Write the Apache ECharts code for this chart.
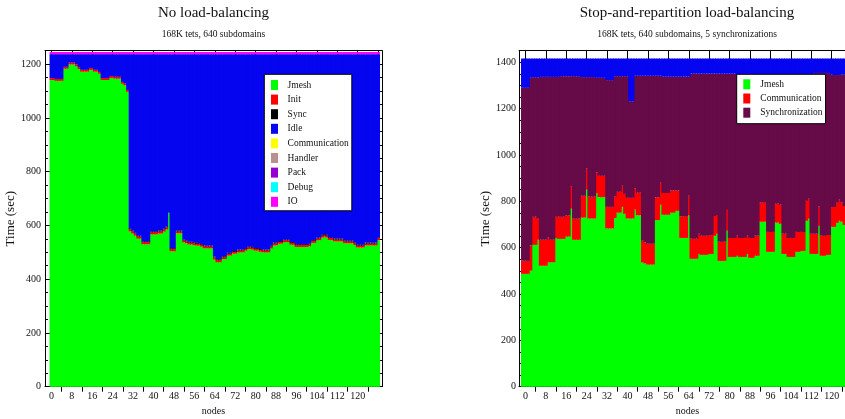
<!DOCTYPE html>
<html>
<head>
<meta charset="utf-8">
<script src="https://cdn.jsdelivr.net/npm/echarts@6/dist/echarts.min.js"></script>
<style>
  html, body { margin: 0; padding: 0; background: #fff; }
  #chart { width: 845px; height: 419px; }
</style>
</head>
<body>
<div id="chart"></div>
<script>
// category slots on both x axes: two empty slots before node 0, like the original frame
var nodes = [];
for (var n = -2; n <= 129; n++) nodes.push(String(n));

var yTicksL = [0, 200, 400, 600, 800, 1000, 1200];
var yTicksR = [0, 200, 400, 600, 800, 1000, 1200, 1400];

// ---- left panel: no load-balancing, bars for nodes 0..128
var jmeshL = [
  1141,1141,1138,1138,1138,1183,1183,1199,1199,1199,
  1192,1182,1172,1172,1172,1179,1179,1172,1172,1164,
  1141,1141,1141,1149,1149,1146,1146,1146,1127,1121,
  1097,578,570,562,551,551,530,530,530,567,
  567,567,570,570,577,585,647,504,504,571,
  571,571,537,534,529,529,527,525,525,521,
  515,515,515,515,473,463,463,475,475,488,
  488,495,495,500,500,500,506,512,512,510,
  506,506,502,500,500,500,514,526,526,532,
  532,538,538,538,528,528,520,520,520,520,
  520,522,535,535,545,545,555,558,555,546,
  546,541,541,541,541,534,534,534,534,527,
  518,518,518,526,526,526,526,526,545
];
var initL = [
  7,7,7,7,7,7,7,7,7,7,
  7,7,7,7,7,7,7,7,7,7,
  7,7,7,7,7,7,7,7,7,7,
  7,8,8,8,8,8,8,8,8,8,
  8,8,8,8,8,8,0,8,8,7,
  7,7,7,7,7,7,7,7,7,7,
  7,7,7,7,8,8,8,7,7,7,
  7,7,7,7,7,7,7,7,7,7,
  7,7,7,7,7,7,7,7,7,7,
  7,7,7,7,7,7,7,7,7,7,
  7,7,7,7,7,7,7,7,7,7,
  7,7,7,7,7,7,7,7,7,7,
  7,7,7,7,7,7,7,7,8
];
var syncL = [
  0,0,0,0,0,0,0,0,0,0,
  0,0,0,0,0,0,0,0,0,0,
  0,0,0,0,0,0,0,0,0,0,
  0,3,3,3,3,3,3,3,3,3,
  3,3,3,3,3,3,0,3,3,3,
  3,3,3,3,3,3,3,3,3,3,
  3,3,3,3,3,3,3,3,3,3,
  3,3,3,3,3,3,3,3,3,3,
  3,3,3,3,3,3,3,3,3,3,
  3,3,3,3,3,3,3,3,3,3,
  3,3,3,3,3,3,3,3,3,3,
  3,3,3,3,3,3,3,3,3,3,
  3,3,3,3,3,3,3,3,3
];
var idleTopL = 1237;  // top of the blue idle band
var ioTopL = 1245;    // top of the thin IO band

// ---- right panel: stop-and-repartition, first bar sits at node -1
var jmeshR = [
  487,487,487,501,612,612,634,522,522,522,
  537,537,537,642,638,638,638,648,648,768,
  634,634,634,730,730,850,726,726,726,835,
  818,818,818,683,683,683,728,751,751,776,
  746,726,726,726,764,740,740,536,532,527,
  527,527,719,719,785,742,742,742,751,751,
  759,759,642,642,642,739,552,552,552,573,
  569,569,569,573,573,651,660,543,543,543,
  673,560,560,560,565,560,560,560,573,556,
  556,565,565,712,712,712,582,582,582,708,
  708,703,573,573,560,560,560,582,582,586,
  586,716,725,573,573,573,694,565,565,569,
  569,690,690,707,716,712,698,698,698
];
var commTopR = [
  543,543,543,609,733,733,725,634,634,634,
  645,634,634,733,733,733,733,739,739,863,
  725,725,725,824,824,941,820,820,820,925,
  910,910,910,776,776,776,820,841,841,867,
  832,815,815,815,856,837,837,630,623,617,
  617,617,817,817,880,836,836,836,847,847,
  847,847,735,735,737,824,638,638,638,660,
  651,651,651,655,655,737,741,625,625,625,
  763,642,642,642,651,642,642,642,651,642,
  642,651,651,794,794,797,668,668,668,790,
  790,785,660,660,642,642,642,668,668,668,
  668,802,811,660,660,660,777,651,651,655,
  655,776,776,794,807,795,780,780,780
];
var syncTopR = [
  1290,1290,1290,1335,1335,1335,1335,1337,1337,1337,
  1337,1337,1337,1337,1337,1340,1340,1340,1340,1340,
  1340,1340,1340,1336,1336,1336,1336,1336,1336,1333,
  1333,1333,1333,1323,1323,1323,1340,1340,1340,1340,
  1340,1340,1232,1232,1342,1342,1342,1342,1342,1342,
  1342,1342,1342,1342,1342,1338,1338,1338,1338,1338,
  1338,1338,1338,1338,1338,1338,1351,1351,1351,1351,
  1351,1351,1351,1351,1351,1351,1351,1351,1351,1351,
  1351,1351,1351,1351,1345,1345,1345,1345,1345,1345,
  1345,1345,1345,1345,1345,1345,1345,1345,1345,1345,
  1345,1345,1345,1345,1345,1345,1345,1345,1345,1345,
  1345,1345,1345,1345,1354,1354,1354,1354,1354,1354,
  1354,1347,1345,1345,1345,1347,1347,1347,1347
];
var idleTopR = 1416;

var colors = {
  jmesh: '#00ff00', init: '#ff0000', sync: '#000000', idle: '#0505f0',
  comm: '#ffff00', handler: '#bc8f8f', pack: '#9400d3', debug: '#00ffff',
  io: '#ff00ff', commR: '#ff0000', syncR: '#660a48'
};

var font = '"Liberation Serif", "Times New Roman", serif';
var ink = '#111';

var chart = echarts.init(document.getElementById('chart'));

function minorOf(majors, max) {
  var out = [];
  for (var v = 50; v < max; v += 50) if (majors.indexOf(v) < 0) out.push(v);
  return out;
}

function pick(step, rest, last) {
  return function (i, val) {
    var v = +val;
    return v >= 0 && v <= last && v % step === rest;
  };
}

function catAxis(grid, pos, interval, len, extra) {
  var ax = {
    type: 'category', gridIndex: grid, position: pos, data: nodes,
    axisLine: { show: false },
    axisTick: { show: true, inside: true, length: len, interval: interval,
      alignWithLabel: true, lineStyle: { color: '#000', width: 1 } },
    axisLabel: { show: false },
    splitLine: { show: false }
  };
  return Object.assign(ax, extra || {});
}

function valAxis(grid, pos, max, ticks, len, extra) {
  var ax = {
    type: 'value', gridIndex: grid, position: pos, min: 0, max: max,
    axisLine: { show: false },
    axisTick: { show: true, inside: true, length: len, customValues: ticks,
      lineStyle: { color: '#000', width: 1 } },
    axisLabel: { show: false },
    splitLine: { show: false }
  };
  return Object.assign(ax, extra || {});
}

var frame = { show: true, onZero: false, lineStyle: { color: '#000', width: 1 } };

function xAxesFor(grid) {
  return [
    catAxis(grid, 'bottom', pick(8, 0, 128), 9, {
      axisLine: frame,
      axisLabel: { show: true, interval: pick(8, 0, 120), margin: 5,
        fontFamily: font, fontSize: 10, color: ink },
      name: 'nodes', nameLocation: 'middle', nameGap: 18,
      nameTextStyle: { fontFamily: font, fontSize: 10, color: ink }
    }),
    catAxis(grid, 'bottom', pick(8, 4, 128), 5),
    catAxis(grid, 'top', pick(8, 0, 128), 9, { axisLine: frame }),
    catAxis(grid, 'top', pick(8, 4, 128), 5)
  ];
}

function yAxesFor(grid, max, majors, labelMargin, nameGap) {
  var minors = minorOf(majors, max);
  return [
    valAxis(grid, 'left', max, majors, 5, {
      axisLine: frame,
      axisLabel: { show: true, customValues: majors, margin: labelMargin,
        formatter: function (v) { return String(v); },
        fontFamily: font, fontSize: 10, color: ink },
      name: 'Time (sec)', nameLocation: 'middle', nameGap: nameGap,
      nameTextStyle: { fontFamily: font, fontSize: 13, color: ink }
    }),
    valAxis(grid, 'left', max, minors, 3),
    valAxis(grid, 'right', max, majors, 5, { axisLine: frame }),
    valAxis(grid, 'right', max, minors, 3)
  ];
}

function padded(values, offset) {
  var out = [];
  for (var k = 0; k < offset; k++) out.push(null);
  return out.concat(values);
}

// bars about a pixel wider than the 2.55px band so neighbours overlap and leave no seams
function bar(name, color, stack, axisIdx, offset, values) {
  return {
    name: name, type: 'bar', stack: stack,
    xAxisIndex: axisIdx, yAxisIndex: axisIdx,
    barWidth: 3.7,
    data: padded(values, offset),
    itemStyle: { color: color },
    emphasis: { disabled: true },
    silent: true
  };
}

// left stack pieces
var idleL = jmeshL.map(function (v, i) { return idleTopL - v - initL[i] - syncL[i]; });
var ioL = jmeshL.map(function () { return ioTopL - idleTopL; });

// right stack pieces, from the band tops
var commR = commTopR.map(function (v, i) { return v - jmeshR[i]; });
var syncR = syncTopR.map(function (v, i) { return v - commTopR[i]; });
var idleR = syncTopR.map(function (v) { return idleTopR - v; });

var series = [
  bar('Jmesh', colors.jmesh, 'L', 0, 2, jmeshL),
  bar('Init', colors.init, 'L', 0, 2, initL),
  bar('Sync', colors.sync, 'L', 0, 2, syncL),
  bar('Idle', colors.idle, 'L', 0, 2, idleL),
  bar('Communication', colors.comm, 'L', 0, 2, []),
  bar('Handler', colors.handler, 'L', 0, 2, []),
  bar('Pack', colors.pack, 'L', 0, 2, []),
  bar('Debug', colors.debug, 'L', 0, 2, []),
  bar('IO', colors.io, 'L', 0, 2, ioL),

  bar('Jmesh', colors.jmesh, 'R', 4, 1, jmeshR),
  bar('Communication', colors.commR, 'R', 4, 1, commR),
  bar('Synchronization', colors.syncR, 'R', 4, 1, syncR),
  bar('Idle', colors.idle, 'R', 4, 1, idleR)
];

function legendItem(name, color) {
  return { name: name, itemStyle: { color: color, borderWidth: 0 } };
}

var legendBase = {
  orient: 'vertical', icon: 'rect', itemWidth: 7, itemHeight: 10,
  backgroundColor: '#fff', borderColor: '#000', borderWidth: 1,
  selectedMode: false
};

var option = {
  animation: false,
  backgroundColor: '#fff',
  title: [
    {
      text: 'No load-balancing', subtext: '168K tets, 640 subdomains',
      left: 213.5, top: 4.7, textAlign: 'center', padding: 0, itemGap: 8.3,
      textStyle: { fontFamily: font, fontSize: 15, fontWeight: 'normal', color: ink, lineHeight: 16 },
      subtextStyle: { fontFamily: font, fontSize: 9.5, color: ink, lineHeight: 11 }
    },
    {
      text: 'Stop-and-repartition load-balancing',
      subtext: '168K tets, 640 subdomains, 5 synchronizations',
      left: 687, top: 4.7, textAlign: 'center', padding: 0, itemGap: 8.3,
      textStyle: { fontFamily: font, fontSize: 15, fontWeight: 'normal', color: ink, lineHeight: 16 },
      subtextStyle: { fontFamily: font, fontSize: 9.5, color: ink, lineHeight: 11 }
    }
  ],
  legend: [
    Object.assign({}, legendBase, {
      left: 264.3, top: 74.3, padding: [5.7, 3, 4, 6.7], itemGap: 4.6,
      textStyle: { fontFamily: font, fontSize: 9.5, color: ink, lineHeight: 10, padding: [0, 0, 0, 4.6] },
      data: [
        legendItem('Jmesh', colors.jmesh), legendItem('Init', colors.init),
        legendItem('Sync', colors.sync), legendItem('Idle', colors.idle),
        legendItem('Communication', colors.comm), legendItem('Handler', colors.handler),
        legendItem('Pack', colors.pack), legendItem('Debug', colors.debug),
        legendItem('IO', colors.io)
      ]
    }),
    Object.assign({}, legendBase, {
      left: 736.7, top: 74.3, padding: [5, 3, 6, 6.6], itemGap: 4.2,
      textStyle: { fontFamily: font, fontSize: 9.5, color: ink, lineHeight: 10, padding: [0, 0, 0, 5] },
      data: [
        legendItem('Jmesh', colors.jmesh),
        legendItem('Communication', colors.commR),
        legendItem('Synchronization', colors.syncR)
      ]
    })
  ],
  grid: [
    { left: 45, top: 50.7, width: 337, height: 336, outerBoundsMode: 'none', containLabel: false },
    { left: 519, top: 50.7, width: 337, height: 336, outerBoundsMode: 'none', containLabel: false }
  ],
  xAxis: xAxesFor(0).concat(xAxesFor(1)),
  yAxis: yAxesFor(0, 1250, yTicksL, 4, 13.5).concat(yAxesFor(1, 1450, yTicksR, 3, 14)),
  series: series
};

chart.setOption(option);
</script>
</body>
</html>
